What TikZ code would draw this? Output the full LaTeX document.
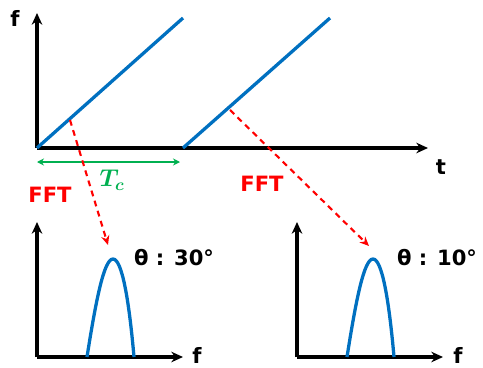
\documentclass[tikz,border=0pt]{standalone}
\usepackage{fontspec,amsmath,bm}
\setmainfont{DejaVu Sans}
\usetikzlibrary{arrows.meta}
\definecolor{chirp}{RGB}{0,112,192}
\definecolor{period}{RGB}{0,176,80}
\tikzset{>=Stealth,every node/.style={font=\bfseries\fontsize{18}{21}\selectfont},
axis/.style={line width=3.2pt,-{Stealth[length=10pt,width=9pt]}},
ramp/.style={chirp,line width=2.8pt},
fft/.style={red,dashed,dash pattern=on 5pt off 4pt,line width=1.8pt,-{Stealth[length=8pt,width=7pt]}},
lbl/.style={red}}

\begin{document}
\begin{tikzpicture}[x=0.03cm,y=-0.03cm]
\useasboundingbox (0,0) rectangle (483,367);
% chirp plot
\coordinate (O) at (37,148);\coordinate (fup) at (37,13);\coordinate (tend) at (428,148);
\draw[axis] (O)--(fup);\draw[axis] (O)--(tend);
\node (f) at (15,18){f};\node (t) at (441,167){t};
\coordinate (R1a) at (O);\coordinate (R1b) at (183,18);
\coordinate (R2a) at (183,148);\coordinate (R2b) at (330,18);
\draw[ramp] (R1a)--(R1b);\draw[ramp] (R2a)--(R2b);
\coordinate (Ta) at (37,162);\coordinate (Tb) at (180,162);
\draw[period,line width=1.6pt,{Stealth[length=6pt,width=6pt]}-{Stealth[length=6pt,width=6pt]}] (Ta)--(Tb);
\node[period,font=\fontsize{22}{24}\selectfont] (Tc) at (112,180){$\bm{T_c}$};
\node[lbl] (fft1) at (50,195){FFT};\node[lbl] (fft2) at (262,184){FFT};
% spectra
\coordinate (A) at (37,357);\coordinate (Aup) at (37,222);\coordinate (Aend) at (183,357);
\coordinate (B) at (297,357);\coordinate (Bup) at (297,222);\coordinate (Bend) at (443,357);
\draw[axis] (A)--(Aup);\draw[axis] (A)--(Aend);
\draw[axis] (B)--(Bup);\draw[axis] (B)--(Bend);
\node[inner sep=1pt] (fa) at (197,355){f};\node[inner sep=1pt] (fb) at (458,355){f};
\coordinate (pk1) at (113,259);\coordinate (pk2) at (373,259);
\draw[ramp] (87,357) .. controls (96,300) and (104,259) .. (pk1) .. controls (122,259) and (129,300) .. (134,357);
\draw[ramp] (347,357) .. controls (356,300) and (364,259) .. (pk2) .. controls (382,259) and (389,300) .. (394,357);
\node (th1) at (174,258){θ : 30°};\node (th2) at (437,258){θ : 10°};
% FFT links
\coordinate (s1) at (70,120);\coordinate (e1) at (108,245);
\coordinate (s2) at (230,110);\coordinate (e2) at (369,246);
\draw[fft] (s1)--(e1);\draw[fft] (s2)--(e2);
\end{tikzpicture}
\end{document}
